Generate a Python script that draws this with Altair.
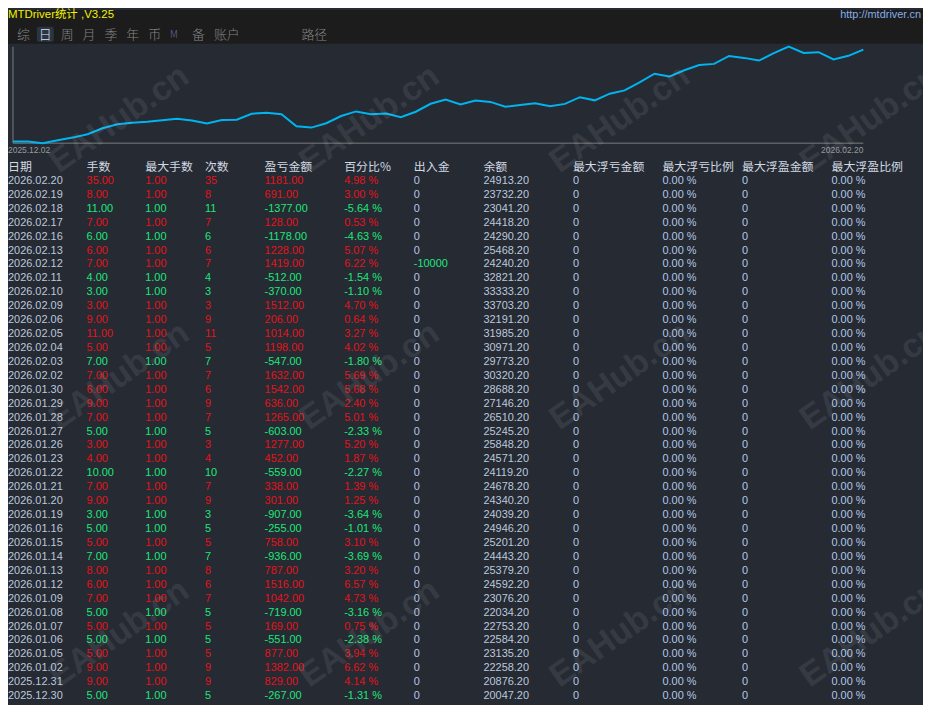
import altair as alt
import pandas as pd

# ---------------- data ----------------
dates = ["2026.02.20", "2026.02.19", "2026.02.18", "2026.02.17", "2026.02.16", "2026.02.13",
         "2026.02.12", "2026.02.11", "2026.02.10", "2026.02.09", "2026.02.06", "2026.02.05",
         "2026.02.04", "2026.02.03", "2026.02.02", "2026.01.30", "2026.01.29", "2026.01.28",
         "2026.01.27", "2026.01.26", "2026.01.23", "2026.01.22", "2026.01.21", "2026.01.20",
         "2026.01.19", "2026.01.16", "2026.01.15", "2026.01.14", "2026.01.13", "2026.01.12",
         "2026.01.09", "2026.01.08", "2026.01.07", "2026.01.06", "2026.01.05", "2026.01.02",
         "2025.12.31", "2025.12.30", "2025.12.29"]
lots = [35, 8, 11, 7, 6, 6, 7, 4, 3, 3, 9, 11, 5, 7, 7, 6, 9, 7, 5, 3, 4, 10, 7, 9, 3,
        5, 5, 7, 8, 6, 7, 5, 5, 5, 5, 9, 9, 5, 10]
max_lots = [1, 1, 1, 1, 1, 1, 1, 1, 1, 1, 1, 1, 1, 1, 1, 1, 1, 1, 1, 1, 1, 1, 1, 1, 1,
            1, 1, 1, 1, 1, 1, 1, 1, 1, 1, 1, 1, 1, 1]
counts = [35, 8, 11, 7, 6, 6, 7, 4, 3, 3, 9, 11, 5, 7, 7, 6, 9, 7, 5, 3, 4, 10, 7, 9, 3,
          5, 5, 7, 8, 6, 7, 5, 5, 5, 5, 9, 9, 5, 10]
profits = [1181, 691, -1377, 128, -1178, 1228, 1419, -512, -370, 1512, 206, 1014, 1198,
           -547, 1632, 1542, 636, 1265, -603, 1277, 452, -559, 338, 301, -907, -255, 758,
           -936, 787, 1516, 1042, -719, 169, -551, 877, 1382, 829, -267, -2269]
pcts = [4.98, 3.00, -5.64, 0.53, -4.63, 5.07, 6.22, -1.54, -1.10, 4.70, 0.64, 3.27, 4.02,
        -1.80, 5.69, 5.68, 2.40, 5.01, -2.33, 5.20, 1.87, -2.27, 1.39, 1.25, -3.64, -1.01,
        3.10, -3.69, 3.20, 6.57, 4.73, -3.16, 0.75, -2.38, 3.94, 6.62, 4.14, -1.31, -10.05]
deposits = [0, 0, 0, 0, 0, 0, -10000, 0, 0, 0, 0, 0, 0, 0, 0, 0, 0, 0, 0, 0, 0, 0, 0, 0,
            0, 0, 0, 0, 0, 0, 0, 0, 0, 0, 0, 0, 0, 0, 2000]
balances = [24913.20, 23732.20, 23041.20, 24418.20, 24290.20, 25468.20, 24240.20, 32821.20,
            33333.20, 33703.20, 32191.20, 31985.20, 30971.20, 29773.20, 30320.20, 28688.20,
            27146.20, 26510.20, 25245.20, 25848.20, 24571.20, 24119.20, 24678.20, 24340.20,
            24039.20, 24946.20, 25201.20, 24443.20, 25379.20, 24592.20, 23076.20, 22034.20,
            22753.20, 22584.20, 23135.20, 22258.20, 20876.20, 20047.20, 20314.20]
max_float_loss = [0, 0, 0, 0, 0, 0, 0, 0, 0, 0, 0, 0, 0, 0, 0, 0, 0, 0, 0, 0, 0, 0, 0, 0,
                  0, 0, 0, 0, 0, 0, 0, 0, 0, 0, 0, 0, 0, 0, 0]
max_float_loss_pct = [0, 0, 0, 0, 0, 0, 0, 0, 0, 0, 0, 0, 0, 0, 0, 0, 0, 0, 0, 0, 0, 0, 0,
                      0, 0, 0, 0, 0, 0, 0, 0, 0, 0, 0, 0, 0, 0, 0, 0]
max_float_profit = [0, 0, 0, 0, 0, 0, 0, 0, 0, 0, 0, 0, 0, 0, 0, 0, 0, 0, 0, 0, 0, 0, 0, 0,
                    0, 0, 0, 0, 0, 0, 0, 0, 0, 0, 0, 0, 0, 0, 0]
max_float_profit_pct = [0, 0, 0, 0, 0, 0, 0, 0, 0, 0, 0, 0, 0, 0, 0, 0, 0, 0, 0, 0, 0, 0,
                        0, 0, 0, 0, 0, 0, 0, 0, 0, 0, 0, 0, 0, 0, 0, 0, 0]

# equity curve before the table rows
dec_dates = ["2025.12.02", "2025.12.03", "2025.12.04", "2025.12.05", "2025.12.08",
             "2025.12.09", "2025.12.10", "2025.12.11", "2025.12.12", "2025.12.15",
             "2025.12.16", "2025.12.17", "2025.12.18", "2025.12.19", "2025.12.22",
             "2025.12.23", "2025.12.24", "2025.12.25", "2025.12.26"]
dec_cum = [0, 20, -300, 270, 760, 1400, 2540, 3300, 3600, 3790, 4060, 4370, 4000, 3450,
           4110, 4170, 5310, 5500, 5200]

headers = ["日期", "手数", "最大手数", "次数", "盈亏金额", "百分比%", "出入金", "余额",
           "最大浮亏金额", "最大浮亏比例", "最大浮盈金额", "最大浮盈比例"]
tabs = ["综", "日", "周", "月", "季", "年", "币", "M", "备", "账户", "路径"]
title_text = "MTDriver统计 ,V3.25"
url_text = "http://mtdriver.cn"
watermark_text = "EAHub.cn"

# ---------------- styles ----------------
W, H = 920, 697
VISIBLE_ROWS = 38          # rows that fit inside the page
BG = "#252a33"
HEAD_BG = "#1c1c1c"
RED = "#e3141b"
GREEN = "#1fe57a"
DATE_C = "#bcc8dc"
ZERO_C = "#b2c8e6"
HEAD_C = "#d2d9e2"
NUM_FONT = "Liberation Sans"
CJK_FONT = "Noto Sans CJK SC"

# ---------------- build tables ----------------
curve_dates = list(dec_dates)
curve_vals = list(dec_cum)
run = dec_cum[-1]
for d, p in zip(reversed(dates), reversed(profits)):
    run += p
    curve_dates.append(d)
    curve_vals.append(run)
N = len(curve_dates)
curve = pd.DataFrame({"idx": list(range(N)), "date": curve_dates, "cum": curve_vals})
vmin, vmax = min(curve_vals), max(curve_vals)

cells = []
for r in range(min(VISIBLE_ROWS, len(dates))):
    pc = RED if profits[r] > 0 else GREEN
    row_vals = [
        (dates[r], DATE_C),
        (f"{lots[r]:.2f}", pc),
        (f"{max_lots[r]:.2f}", pc),
        (str(counts[r]), pc),
        (f"{profits[r]:.2f}", pc),
        (f"{pcts[r]:.2f} %", pc),
        (str(deposits[r]), GREEN if deposits[r] != 0 else ZERO_C),
        (f"{balances[r]:.2f}", DATE_C),
        (str(max_float_loss[r]), ZERO_C),
        (f"{max_float_loss_pct[r]:.2f} %", ZERO_C),
        (str(max_float_profit[r]), ZERO_C),
        (f"{max_float_profit_pct[r]:.2f} %", ZERO_C),
    ]
    for c, (t, col) in enumerate(row_vals):
        cells.append({"col": c, "row": r + 1, "text": t, "color": col})
cells_df = pd.DataFrame(cells)
head_df = pd.DataFrame({"col": list(range(len(headers))), "row": [0] * len(headers),
                        "text": headers})

tab_slots = list(range(len(tabs) - 1)) + [13]
tab_df = pd.DataFrame({
    "tab": tabs,
    "slot": tab_slots,
    "color": ["#d6e2f4" if t == "日" else ("#76629a" if t == "M" else "#858585") for t in tabs],
    "size": [10 if t == "M" else 13 for t in tabs],
})

wm_df = pd.DataFrame([{"wc": c, "wr": r} for r in range(3) for c in range(4)])

one = pd.DataFrame({"k": [0]})

# ---------------- scales ----------------
cx = alt.Scale(domain=[0, N - 1], range=[5, 860], nice=False, zero=False)
cy = alt.Scale(domain=[vmin, vmax], range=[134, 37], nice=False, zero=False)
col_scale = alt.Scale(domain=list(range(12)),
                      range=[0, 79, 138, 198, 258, 338, 408, 478, 568, 658, 738, 828],
                      nice=False, zero=False)
row_scale = alt.Scale(domain=[0, 39], range=[158, 704], nice=False, zero=False)
tab_scale = alt.Scale(domain=[0, 13], range=[9, 295], nice=False, zero=False)

# ---------------- header ----------------
head_bg = alt.Chart(one).mark_rect(color=HEAD_BG).encode(
    x=alt.value(0), x2=alt.value(W), y=alt.value(0), y2=alt.value(34))
tab_box = alt.Chart(one).mark_rect(color="#2c3442", cornerRadius=2).encode(
    x=alt.value(29), x2=alt.value(46), y=alt.value(17), y2=alt.value(32))
title = alt.Chart(pd.DataFrame({"t": [title_text]})).mark_text(
    align="left", baseline="middle", font=NUM_FONT + ", " + CJK_FONT, fontSize=11.5,
    color="#f2f200").encode(text="t:N", x=alt.value(0), y=alt.value(5))
url = alt.Chart(pd.DataFrame({"t": [url_text]})).mark_text(
    align="right", baseline="middle", font=NUM_FONT, fontSize=11,
    color="#86aee8").encode(text="t:N", x=alt.value(918), y=alt.value(5))
tab_text = alt.Chart(tab_df).mark_text(
    align="left", baseline="middle", font=CJK_FONT, fontWeight=300).encode(
    x=alt.X("slot:Q", scale=tab_scale, axis=None),
    y=alt.value(25),
    text="tab:N",
    color=alt.Color("color:N", scale=None),
    size=alt.Size("size:Q", scale=None),
)

# ---------------- equity line ----------------
axis_df = pd.DataFrame({"i0": [0], "i1": [N - 1], "lo": [vmin], "hi": [vmax]})
y_axis_rule = alt.Chart(axis_df).mark_rule(color="#7c7c7c", strokeWidth=1).encode(
    x=alt.X("i0:Q", scale=cx, axis=None),
    y=alt.Y("lo:Q", scale=cy, axis=None), y2="hi:Q")
x_axis_rule = alt.Chart(axis_df).mark_rule(color="#7c7c7c", strokeWidth=1).encode(
    x=alt.X("i0:Q", scale=cx, axis=None), x2="i1:Q",
    y=alt.Y("lo:Q", scale=cy, axis=None))
line = alt.Chart(curve).mark_line(color="#00b4f0", strokeWidth=2).encode(
    x=alt.X("idx:Q", scale=cx, axis=None),
    y=alt.Y("cum:Q", scale=cy, axis=None))
first_lbl = alt.Chart(curve.iloc[[0]]).mark_text(
    align="left", baseline="middle", dx=-5, font=NUM_FONT, fontSize=8.5,
    color="#9a9a9a").encode(
    x=alt.X("idx:Q", scale=cx, axis=None),
    y=alt.value(141), text="date:N")
last_lbl = alt.Chart(curve.iloc[[N - 1]]).mark_text(
    align="right", baseline="middle", font=NUM_FONT, fontSize=8.5,
    color="#9a9a9a").encode(
    x=alt.X("idx:Q", scale=cx, axis=None),
    y=alt.value(141), text="date:N")
equity = alt.layer(y_axis_rule, x_axis_rule, line, first_lbl, last_lbl)

# ---------------- table ----------------
head_text = alt.Chart(head_df).mark_text(
    align="left", baseline="middle", font=CJK_FONT, fontSize=12, color=HEAD_C).encode(
    x=alt.X("col:Q", scale=col_scale, axis=None),
    y=alt.Y("row:Q", scale=row_scale, axis=None),
    text="text:N")
cell_text = alt.Chart(cells_df).mark_text(
    align="left", baseline="middle", font=NUM_FONT, fontSize=11).encode(
    x=alt.X("col:Q", scale=col_scale, axis=None),
    y=alt.Y("row:Q", scale=row_scale, axis=None),
    text="text:N",
    color=alt.Color("color:N", scale=None))
table = alt.layer(head_text, cell_text)

# ---------------- watermark ----------------
watermark = alt.Chart(wm_df).mark_text(
    text=watermark_text, align="center", baseline="middle", angle=325,
    font=NUM_FONT, fontSize=34, fontWeight="bold", color="#ffffff", opacity=0.075).encode(
    x=alt.X("wc:Q", scale=alt.Scale(domain=[0, 3], range=[112, 867], nice=False, zero=False), axis=None),
    y=alt.Y("wr:Q", scale=alt.Scale(domain=[0, 2], range=[110, 627], nice=False, zero=False), axis=None))

chart = alt.layer(
    head_bg, tab_box, title, url, tab_text, equity, table, watermark
).resolve_scale(
    x="independent", y="independent"
).properties(
    width=W, height=H, padding=0, background=BG,
    autosize=alt.AutoSizeParams(type="none"),
).configure_view(stroke=None, fill=BG)

chart.save("out.html", embed_options={"renderer": "svg", "actions": False})
